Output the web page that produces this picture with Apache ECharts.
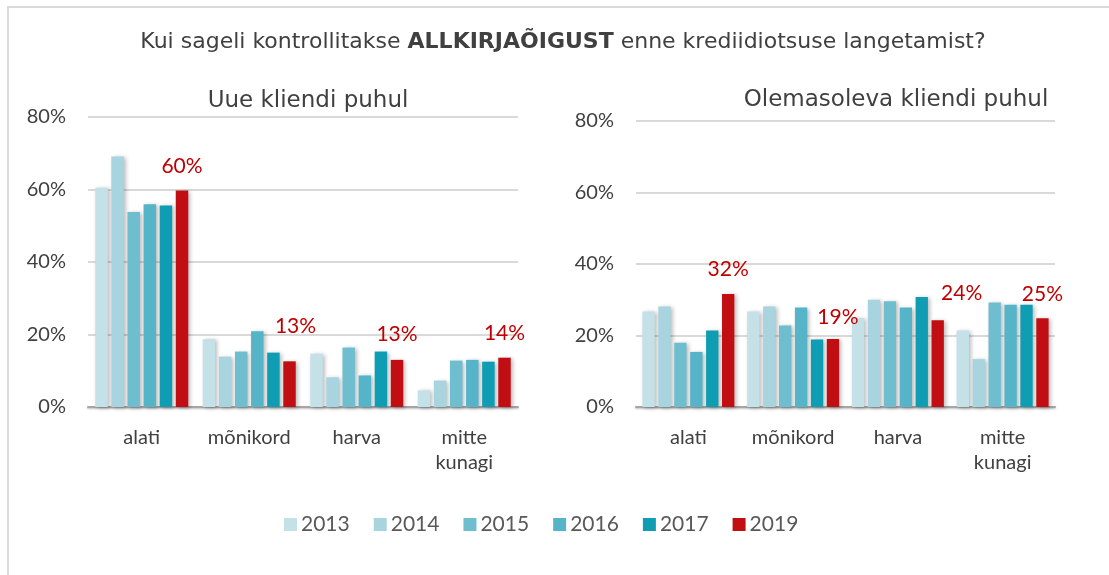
<!DOCTYPE html>
<html>
<head>
<meta charset="utf-8">
<script src="https://cdn.jsdelivr.net/npm/echarts@6/dist/echarts.min.js"></script>
<style>
  html, body { margin: 0; padding: 0; background: #fff; }
  #frame { position: absolute; left: 7px; top: 6px; width: 1102px; height: 569px;
           border-top: 2px solid #dadada; border-left: 2px solid #dadada; box-sizing: border-box; }
  #chart { position: absolute; left: 0; top: 0; width: 1109px; height: 575px; }
</style>
</head>
<body>
<div id="frame"></div>
<div id="chart"></div>
<script>
// categories and years
const categories = ['alati', 'mõnikord', 'harva', 'mitte\nkunagi'];
const years = ['2013', '2014', '2015', '2016', '2017', '2019'];
const yTicks = [0, 20, 40, 60, 80];

// Uue kliendi puhul (%), one array per year
const newClient2013 = [60.5, 18.7, 14.7, 4.6];
const newClient2014 = [69.1, 13.9, 8.2, 7.3];
const newClient2015 = [53.8, 15.3, 16.4, 12.8];
const newClient2016 = [55.9, 20.9, 8.7, 13.0];
const newClient2017 = [55.6, 15.0, 15.3, 12.5];
const newClient2019 = [59.7, 12.6, 13.0, 13.6];

// Olemasoleva kliendi puhul (%)
const oldClient2013 = [26.7, 26.7, 24.9, 21.4];
const oldClient2014 = [28.1, 28.1, 30.0, 13.4];
const oldClient2015 = [18.0, 22.8, 29.6, 29.2];
const oldClient2016 = [15.4, 27.8, 27.8, 28.6];
const oldClient2017 = [21.4, 18.9, 30.8, 28.6];
const oldClient2019 = [31.6, 19.0, 24.3, 24.8];

const colors = ['#C5E1E8', '#A8D4DF', '#6EBED0', '#55B4C8', '#0E9DB2', '#C00E12'];
const labelRed = '#C00000';
const textGray = '#404040';

// small nudges of the 2019 labels (they were hand placed in the original)
const nudgeLeft = [[0, 0], [6, -11], [0, -1], [0, 0]];
const nudgeRight = [[0, 0], [5, 3], [24, -2], [0, 0]];

const newClient = [newClient2013, newClient2014, newClient2015, newClient2016, newClient2017, newClient2019];
const oldClient = [oldClient2013, oldClient2014, oldClient2015, oldClient2016, oldClient2017, oldClient2019];

const chart = echarts.init(document.getElementById('chart'));

function makeSeries(rows, axisIndex, nudges, catGap) {
  return rows.map((vals, i) => {
    const last = i === rows.length - 1;
    return {
      name: years[i],
      type: 'bar',
      xAxisIndex: axisIndex,
      yAxisIndex: axisIndex,
      barGap: '29%',
      barCategoryGap: catGap,
      itemStyle: {
        color: colors[i],
        shadowColor: 'rgba(0,0,0,0.28)',
        shadowBlur: 4,
        shadowOffsetX: 2,
        shadowOffsetY: 1
      },
      data: last ? vals.map((v, j) => ({
        value: v,
        label: { offset: nudges[j] }
      })) : vals,
      label: {
        show: last,
        position: 'top',
        distance: 14,
        color: labelRed,
        fontFamily: 'Lato',
        fontSize: 21,
        formatter: p => Math.round(p.value) + '%'
      }
    };
  });
}

const catAxis = idx => ({
  type: 'category',
  gridIndex: idx,
  data: categories,
  axisTick: { show: false },
  axisLine: { lineStyle: { color: '#a6a6a6', width: 2, shadowColor: 'rgba(0,0,0,0.25)', shadowBlur: 2, shadowOffsetY: 1 } },
  axisLabel: { interval: 0, margin: 18, color: textGray, fontFamily: 'Lato', fontSize: 20, lineHeight: 25 }
});

const valAxis = idx => ({
  type: 'value',
  gridIndex: idx,
  min: yTicks[0],
  max: yTicks[yTicks.length - 1],
  interval: 20,
  axisLine: { show: false },
  axisTick: { show: false },
  splitLine: { lineStyle: { color: '#d9d9d9', width: 2 } },
  axisLabel: { margin: 22, color: textGray, fontFamily: 'Lato', fontSize: 20, formatter: '{value}%' }
});

chart.setOption({
  animation: false,
  color: colors,
  title: [
    {
      text: '{a|Kui sageli kontrollitakse }{b|ALLKIRJAÕIGUST}{a| enne krediidiotsuse langetamist?}',
      left: 558, top: 26, textAlign: 'center',
      textStyle: {
        fontWeight: 'normal',
        rich: {
          a: { fontFamily: 'DejaVu Sans', fontSize: 22, color: textGray, fontWeight: 'normal' },
          b: { fontFamily: 'DejaVu Sans', fontSize: 22, color: textGray, fontWeight: 'bold' }
        }
      }
    },
    {
      text: 'Uue kliendi puhul', left: 303, top: 85, textAlign: 'center',
      textStyle: { fontFamily: 'DejaVu Sans', fontSize: 23, fontWeight: 'normal', color: textGray }
    },
    {
      text: 'Olemasoleva kliendi puhul', left: 891, top: 84, textAlign: 'center',
      textStyle: { fontFamily: 'DejaVu Sans', fontSize: 23, fontWeight: 'normal', color: textGray }
    }
  ],
  legend: {
    data: years,
    left: 279,
    top: 509,
    itemWidth: 13,
    itemHeight: 13,
    itemGap: 24,
    icon: 'rect',
    textStyle: { fontFamily: 'Lato', fontSize: 21, color: '#595959', padding: [0, 0, 0, -1] }
  },
  grid: [
    { left: 88, top: 117, width: 430, height: 290 },
    { left: 636, top: 121, width: 419, height: 286 }
  ],
  xAxis: [catAxis(0), catAxis(1)],
  yAxis: [valAxis(0), valAxis(1)],
  series: [
    ...makeSeries(newClient, 0, nudgeLeft, '13.5%'),
    ...makeSeries(oldClient, 1, nudgeRight, '12.2%')
  ]
});
</script>
</body>
</html>
